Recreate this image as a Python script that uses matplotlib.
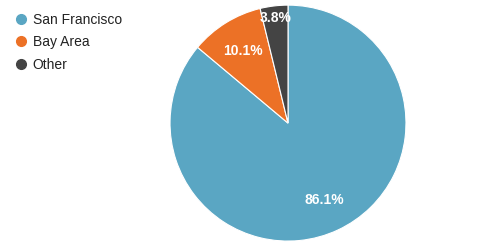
import matplotlib
matplotlib.use("Agg")
import matplotlib.pyplot as plt
from matplotlib.lines import Line2D
import numpy as np

plt.rcParams["font.family"] = ["Liberation Sans", "DejaVu Sans"]

# ── Data ──────────────────────────────────────────────── #
labels = ["San Francisco", "Bay Area", "Other"]
shares = [86.1, 10.1, 3.8]
colors = ["#5aa6c3", "#ec7126", "#444444"]
label_dist = [0.72, 0.72, 0.9]

fig = plt.figure(figsize=(5, 2.44), dpi=100, facecolor="white")
ax = fig.add_axes([0.34, 0.012, 0.472, 0.967])

wedges, _ = ax.pie(shares, colors=colors, startangle=90, counterclock=False,
                   wedgeprops=dict(edgecolor="white", linewidth=0.8))

for w, val, d in zip(wedges, shares, label_dist):
    ang = np.deg2rad((w.theta1 + w.theta2) / 2)
    ax.text(d * np.cos(ang), d * np.sin(ang), f"{val:.1f}%",
            ha="center", va="center", color="white",
            fontsize=10, fontweight="bold")
ax.set_xlim(-1.0, 1.0)
ax.set_ylim(-1.0, 1.0)
ax.set_aspect("equal")

handles = [Line2D([], [], marker="o", linestyle="", markersize=7,
                  markerfacecolor=c, markeredgecolor=c) for c in colors]
fig.legend(handles, labels, loc="upper left", bbox_to_anchor=(0.004, 1.0),
           frameon=False, fontsize=10, handletextpad=0.3, labelspacing=0.62,
           handlelength=1.0, labelcolor="#222222")

fig.savefig("out.png", dpi=100, facecolor="white")
